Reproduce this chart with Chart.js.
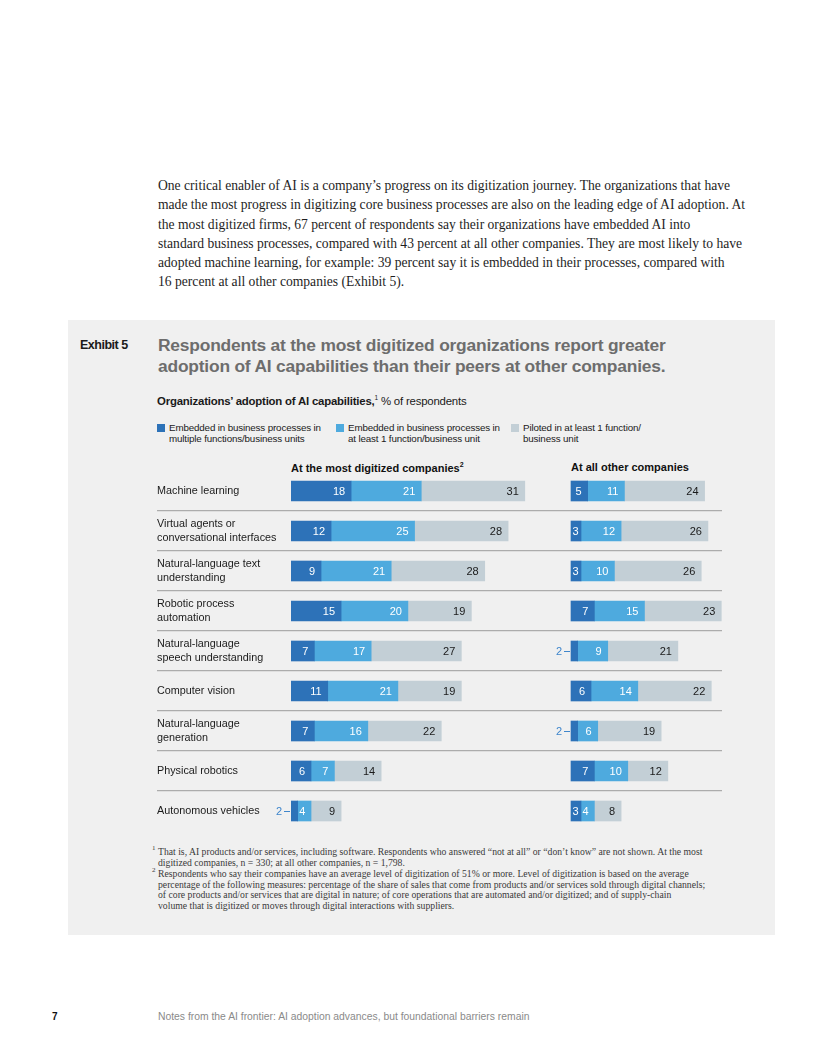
<!DOCTYPE html>
<html><head><meta charset="utf-8">
<script src="https://cdn.jsdelivr.net/npm/chart.js@4.4.0/dist/chart.umd.min.js"></script>
<style>
body{margin:0;width:816px;height:1056px;position:relative;background:#fff;font-family:"Liberation Sans",Arial,sans-serif;overflow:hidden;}
.abs{position:absolute;white-space:nowrap;}
#body{left:158px;top:176px;font-family:"Liberation Serif",serif;font-size:13.6px;line-height:19.3px;color:#1e1e1e;}
#panel{left:68px;top:320px;width:707px;height:615px;background:#f0f0f0;}
#exh{left:80px;top:338px;font-size:12.5px;font-weight:bold;letter-spacing:-0.5px;color:#1a1a1a;}
#title{left:158px;top:335px;font-size:17.4px;font-weight:bold;line-height:21px;color:#6d6d6d;letter-spacing:-0.2px;}
#sub{left:157px;top:394px;font-size:11.4px;color:#1a1a1a;letter-spacing:-0.2px;}
#sub sup{font-size:6.5px;}
.lg{position:absolute;top:422px;font-size:9.8px;line-height:11px;color:#1a1a1a;letter-spacing:-0.15px;}
.sw{position:absolute;width:8px;height:8px;top:424px;}
.hdr{position:absolute;top:461px;font-size:11px;font-weight:bold;color:#111;white-space:nowrap;}
.hdr sup{font-size:7px;}
#wrap{position:absolute;left:157px;top:471px;width:565px;height:360px;}
#notes{left:158px;top:847px;font-family:"Liberation Serif",serif;font-size:9.7px;line-height:10.85px;color:#3a3a3a;}
#notes div{position:relative;}
#notes sup{position:absolute;left:-6px;top:-2px;font-size:7px;line-height:7px;}
#pg{left:52px;top:1011px;font-size:10px;font-weight:bold;color:#111;}
#foot{left:158px;top:1011px;font-size:10.35px;color:#8a8a8a;}
</style></head>
<body>
<div id="body" class="abs">
<div>One critical enabler of AI is a company’s progress on its digitization journey. The organizations that have</div>
<div>made the most progress in digitizing core business processes are also on the leading edge of AI adoption. At</div>
<div>the most digitized firms, 67 percent of respondents say their organizations have embedded AI into</div>
<div>standard business processes, compared with 43 percent at all other companies. They are most likely to have</div>
<div>adopted machine learning, for example: 39 percent say it is embedded in their processes, compared with</div>
<div>16 percent at all other companies (Exhibit 5).</div>
</div>
<div id="panel" class="abs"></div>
<div id="exh" class="abs">Exhibit 5</div>
<div id="title" class="abs">Respondents at the most digitized organizations report greater<br>adoption of AI capabilities than their peers at other companies.</div>
<div id="sub" class="abs"><b>Organizations’ adoption of AI capabilities,</b><sup>1</sup> % of respondents</div>
<div id="legend"></div>
<div id="headers"></div>
<div id="wrap"><canvas id="c"></canvas></div>
<div id="notes" class="abs">
<div><sup>1</sup>That is, AI products and/or services, including software. Respondents who answered “not at all” or “don’t know” are not shown. At the most</div>
<div>digitized companies, n = 330; at all other companies, n = 1,798.</div>
<div><sup>2</sup>Respondents who say their companies have an average level of digitization of 51% or more. Level of digitization is based on the average</div>
<div>percentage of the following measures: percentage of the share of sales that come from products and/or services sold through digital channels;</div>
<div>of core products and/or services that are digital in nature; of core operations that are automated and/or digitized; and of supply-chain</div>
<div>volume that is digitized or moves through digital interactions with suppliers.</div>
</div>
<div id="pg" class="abs">7</div>
<div id="foot" class="abs">Notes from the AI frontier: AI adoption advances, but foundational barriers remain</div>
<script>
// ---- data ----
const categories = [
  ["Machine learning"],
  ["Virtual agents or", "conversational interfaces"],
  ["Natural-language text", "understanding"],
  ["Robotic process", "automation"],
  ["Natural-language", "speech understanding"],
  ["Computer vision"],
  ["Natural-language", "generation"],
  ["Physical robotics"],
  ["Autonomous vehicles"]
];
const seriesNames = [
  ["Embedded in business processes in", "multiple functions/business units"],
  ["Embedded in business processes in", "at least 1 function/business unit"],
  ["Piloted in at least 1 function/", "business unit"]
];
const groupTitles = ["At the most digitized companies", "At all other companies"];
const digitizedMultiple = [18, 12, 9, 15, 7, 11, 7, 6, 2];
const digitizedAtLeastOne = [21, 25, 21, 20, 17, 21, 16, 7, 4];
const digitizedPiloted = [31, 28, 28, 19, 27, 19, 22, 14, 9];
const otherMultiple = [5, 3, 3, 7, 2, 6, 2, 7, 3];
const otherAtLeastOne = [11, 12, 10, 15, 9, 14, 6, 10, 4];
const otherPiloted = [24, 26, 26, 23, 21, 22, 19, 12, 8];

// ---- styles ----
const colors = ["#2d72b8", "#4eaade", "#c3cfd6"];
const textColors = ["#ffffff", "#ffffff", "#1a1a1a"];

// legend (HTML)
const legendX = [157, 336, 511];
const lg = document.getElementById('legend');
seriesNames.forEach((nm, i) => {
  const sw = document.createElement('div');
  sw.className = 'sw'; sw.style.left = legendX[i] + 'px'; sw.style.background = colors[i];
  lg.appendChild(sw);
  const t = document.createElement('div');
  t.className = 'lg'; t.style.left = (legendX[i] + 12) + 'px';
  t.innerHTML = nm.join('<br>');
  lg.appendChild(t);
});
// headers
const hd = document.getElementById('headers');
[[291, groupTitles[0] + '<sup>2</sup>'], [571, groupTitles[1]]].forEach(([x, h]) => {
  const d = document.createElement('div'); d.className = 'hdr'; d.style.left = x + 'px'; d.innerHTML = h; hd.appendChild(d);
});

const PX_PER_UNIT = 3.34;
const AREA_W = 722 - 291;
const RIGHT_OFFSET = (571 - 291) / PX_PER_UNIT;

function mk(label, data, i, axis) {
  return { label: label, data: data, backgroundColor: colors[i], xAxisID: axis, stack: 'all',
    barThickness: 20, borderWidth: 0, _ci: i };
}
const datasets = [
  mk(seriesNames[0].join(' '), digitizedMultiple, 0, 'xL'),
  mk(seriesNames[1].join(' '), digitizedAtLeastOne, 1, 'xL'),
  mk(seriesNames[2].join(' '), digitizedPiloted, 2, 'xL'),
  mk(seriesNames[0].join(' '), otherMultiple, 0, 'xR'),
  mk(seriesNames[1].join(' '), otherAtLeastOne, 1, 'xR'),
  mk(seriesNames[2].join(' '), otherPiloted, 2, 'xR')
];

const n = categories.length;
const valueLabels = {
  id: 'valueLabels',
  afterDatasetsDraw(chart) {
    const ctx = chart.ctx;
    ctx.save();
    ctx.font = '11px "Liberation Sans", Arial, sans-serif';
    ctx.textBaseline = 'middle';
    chart.data.datasets.forEach((ds, di) => {
      const meta = chart.getDatasetMeta(di);
      meta.data.forEach((bar, j) => {
        const v = ds.data[j];
        const start = Math.min(bar.base, bar.x), end = Math.max(bar.base, bar.x);
        const tw = ctx.measureText(String(v)).width;
        if (v <= 2) {
          ctx.fillStyle = '#3f86cc';
          ctx.textAlign = 'right';
          ctx.fillText(String(v), start - 9, bar.y + 0.5);
          ctx.strokeStyle = '#3f86cc'; ctx.lineWidth = 1;
          ctx.beginPath(); ctx.moveTo(start - 7, bar.y + 0.5); ctx.lineTo(start - 1, bar.y + 0.5); ctx.stroke();
        } else {
          ctx.fillStyle = textColors[ds._ci];
          ctx.textAlign = 'right';
          const right = Math.max(end - 6, start + tw + 1.5);
          ctx.fillText(String(v), right, bar.y + 0.5);
        }
      });
    });
    ctx.restore();
  }
};

const sepColor = '#acacac';
const hideEdge = c => (typeof c.index !== 'number' || c.index === 0 || c.index >= n);
new Chart(document.getElementById('c'), {
  type: 'bar',
  data: { labels: categories, datasets: datasets },
  options: {
    indexAxis: 'y',
    responsive: true, maintainAspectRatio: false, animation: false,
    layout: { padding: 0 },
    plugins: { legend: { display: false }, tooltip: { enabled: false } },
    scales: {
      y: {
        stacked: true,
        border: { display: false },
        grid: {
          offset: true, drawOnChartArea: true, drawTicks: true, tickLength: 134, lineWidth: 1.3,
          color: c => hideEdge(c) ? 'rgba(0,0,0,0)' : sepColor,
          tickColor: c => hideEdge(c) ? 'rgba(0,0,0,0)' : sepColor
        },
        ticks: { crossAlign: 'far', color: '#1a1a1a', padding: 0,
          font: { family: '"Liberation Sans", Arial, sans-serif', size: 10.8, lineHeight: 1.3 } },
        afterFit: s => { s.width = 134; s.paddingTop = 0; s.paddingBottom = 0; }
      },
      xL: { type: 'linear', axis: 'x', position: 'bottom', stacked: true, display: false,
        min: 0, max: AREA_W / PX_PER_UNIT },
      xR: { type: 'linear', axis: 'x', position: 'bottom', stacked: true, display: false,
        min: -RIGHT_OFFSET, max: AREA_W / PX_PER_UNIT - RIGHT_OFFSET }
    }
  },
  plugins: [valueLabels]
});
</script>
</body></html>
